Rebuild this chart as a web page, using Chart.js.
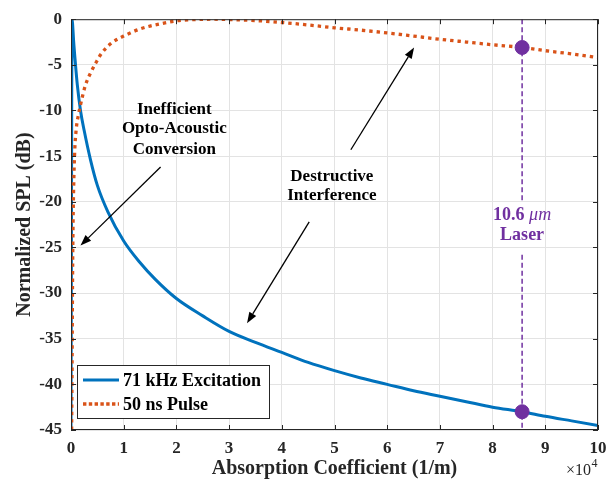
<!DOCTYPE html>
<html>
<head>
<meta charset="utf-8">
<script src="https://cdn.jsdelivr.net/npm/chart.js@4.4.1/dist/chart.umd.min.js"></script>
<style>
  html, body { margin: 0; padding: 0; background: #fff; }
  #wrap { width: 616px; height: 482px; }
</style>
</head>
<body>
<div id="wrap"><canvas id="splChart" width="616" height="482"></canvas></div>
<script>
// absorption coefficient (x 10^4 1/m) and normalized SPL (dB)
const excitationX = [0, 0.008, 0.014, 0.02, 0.03, 0.05, 0.08, 0.12, 0.18, 0.25, 0.37, 0.5, 0.7, 1.0, 1.3, 1.6, 2.0, 2.5, 3.0, 3.5, 4.0, 4.5, 5.0, 5.5, 6.0, 6.5, 7.0, 7.5, 8.0, 8.56, 9.0, 9.5, 10];
const excitationDb = [-45, -25, -8, 0, -0.5, -2.4, -4.6, -7.2, -10, -12.2, -15.4, -18.2, -21.1, -24.3, -26.6, -28.5, -30.6, -32.5, -34.2, -35.4, -36.5, -37.6, -38.5, -39.3, -40.0, -40.7, -41.3, -41.9, -42.5, -43.0, -43.5, -44.0, -44.5];

const pulseX = [0.012, 0.02, 0.03, 0.04, 0.05, 0.07, 0.1, 0.14, 0.18, 0.27, 0.37, 0.47, 0.56, 0.75, 1.0, 1.32, 1.7, 2.0, 2.4, 2.7, 3.0, 3.5, 4.0, 4.5, 5.0, 5.5, 6.0, 6.5, 7.0, 7.5, 8.0, 8.56, 9.0, 9.5, 10];
const pulseDb = [-45, -38, -28, -22, -18.5, -14.5, -12, -10.5, -9.4, -7.3, -5.9, -4.8, -3.9, -2.7, -1.85, -1.05, -0.5, -0.18, -0.03, 0, -0.04, -0.15, -0.36, -0.63, -0.94, -1.2, -1.5, -1.85, -2.2, -2.5, -2.8, -3.1, -3.45, -3.8, -4.2];

// 10.6 um laser line and its two operating points
const laserX = 8.56;
const laserLineDb = [0, -19.9, null, -25.8, -45];
const laserPointDb = [-3.1, -43.0];

const xTicks = [0, 1, 2, 3, 4, 5, 6, 7, 8, 9, 10];
const yTicks = [0, -5, -10, -15, -20, -25, -30, -35, -40, -45];

const seriesLabels = ['71 kHz Excitation', '50 ns Pulse'];

const BLUE = '#0072bd';
const ORANGE = '#d95319';
const PURPLE = '#7030a0';
const AXIS = '#262626';
const SERIF = '"Liberation Serif", "Times New Roman", serif';

function pts(xs, ys) {
  return xs.map((x, i) => ({ x: x, y: ys[i] }));
}

// annotations in data units
const notes = [
  { lines: ['Inefficient', 'Opto-Acoustic', 'Conversion'], x: 1.96, y: [-9.85, -12.0, -14.3] },
  { lines: ['Destructive', 'Interference'], x: 4.95, y: [-17.2, -19.3] }
];
const arrows = [
  { from: [1.7, -16.2], to: [0.18, -24.8] },
  { from: [4.52, -22.2], to: [3.34, -33.3] },
  { from: [5.31, -14.3], to: [6.51, -3.1] }
];

const overlay = {
  id: 'overlay',
  afterDraw(chart) {
    const ctx = chart.ctx;
    const a = chart.chartArea;
    const xs = chart.scales.x, ys = chart.scales.y;
    ctx.save();

    // box + inward ticks (matlab style)
    ctx.strokeStyle = AXIS;
    ctx.lineWidth = 1;
    ctx.strokeRect(a.left + 0.5, a.top + 0.5, a.right - a.left - 1, a.bottom - a.top - 1);
    ctx.beginPath();
    xTicks.forEach(v => {
      const px = Math.round(xs.getPixelForValue(v)) + 0.5;
      ctx.moveTo(px, a.bottom); ctx.lineTo(px, a.bottom - 5);
      ctx.moveTo(px, a.top); ctx.lineTo(px, a.top + 5);
    });
    yTicks.forEach(v => {
      const py = Math.round(ys.getPixelForValue(v)) + 0.5;
      ctx.moveTo(a.left, py); ctx.lineTo(a.left + 5, py);
      ctx.moveTo(a.right, py); ctx.lineTo(a.right - 5, py);
    });
    ctx.stroke();

    // arrows
    ctx.strokeStyle = '#000';
    ctx.fillStyle = '#000';
    ctx.lineWidth = 1.3;
    arrows.forEach(ar => {
      const x1 = xs.getPixelForValue(ar.from[0]), y1 = ys.getPixelForValue(ar.from[1]);
      const x2 = xs.getPixelForValue(ar.to[0]), y2 = ys.getPixelForValue(ar.to[1]);
      const ang = Math.atan2(y2 - y1, x2 - x1);
      const len = 11, half = 4;
      const bx = x2 - len * Math.cos(ang), by = y2 - len * Math.sin(ang);
      ctx.beginPath();
      ctx.moveTo(x1, y1); ctx.lineTo(bx, by);
      ctx.stroke();
      ctx.beginPath();
      ctx.moveTo(x2, y2);
      ctx.lineTo(bx + half * Math.sin(ang), by - half * Math.cos(ang));
      ctx.lineTo(bx - half * Math.sin(ang), by + half * Math.cos(ang));
      ctx.closePath();
      ctx.fill();
    });

    // text notes
    ctx.font = 'bold 17px ' + SERIF;
    ctx.textAlign = 'center';
    ctx.textBaseline = 'middle';
    notes.forEach(n => {
      n.lines.forEach((t, i) => {
        ctx.fillText(t, xs.getPixelForValue(n.x), ys.getPixelForValue(n.y[i]));
      });
    });

    // laser label
    const lx = xs.getPixelForValue(laserX);
    ctx.fillStyle = PURPLE;
    const numTxt = '10.6 ';
    ctx.font = 'italic 18px ' + SERIF;
    const wUnit = ctx.measureText('\u03bcm').width;
    ctx.font = 'bold 18px ' + SERIF;
    const wNum = ctx.measureText(numTxt).width;
    const startX = lx - (wNum + wUnit) / 2;
    const ly1 = ys.getPixelForValue(-21.5);
    ctx.textAlign = 'left';
    ctx.fillText(numTxt, startX, ly1);
    ctx.font = 'italic 18px ' + SERIF;
    ctx.fillText('\u03bcm', startX + wNum, ly1);
    ctx.font = 'bold 18px ' + SERIF;
    ctx.textAlign = 'center';
    ctx.fillText('Laser', lx, ys.getPixelForValue(-23.7));

    // legend box
    const lg = { left: 77.5, top: 365.5, w: 192, h: 53 };
    ctx.fillStyle = '#fff';
    ctx.fillRect(lg.left, lg.top, lg.w, lg.h);
    ctx.strokeStyle = AXIS;
    ctx.lineWidth = 1;
    ctx.strokeRect(lg.left, lg.top, lg.w, lg.h);
    const rows = [380, 404];
    const sampleDash = [[], [3.4, 2.4]];
    chart.data.datasets.slice(0, 2).forEach((ds, i) => {
      ctx.beginPath();
      ctx.strokeStyle = ds.borderColor;
      ctx.lineWidth = ds.borderWidth;
      ctx.setLineDash(sampleDash[i]);
      ctx.moveTo(83, rows[i]); ctx.lineTo(119, rows[i]);
      ctx.stroke();
      ctx.setLineDash([]);
      ctx.fillStyle = '#000';
      ctx.font = 'bold 18px ' + SERIF;
      ctx.textAlign = 'left';
      ctx.fillText(ds.label, 123, rows[i] + 1);
    });

    // x10^4 multiplier
    ctx.fillStyle = AXIS;
    ctx.font = '16px ' + SERIF;
    ctx.textAlign = 'right';
    ctx.fillText('\u00d710', 591, 471);
    ctx.font = '12px ' + SERIF;
    ctx.textAlign = 'left';
    ctx.fillText('4', 591.5, 464);

    ctx.restore();
  }
};

const ctx = document.getElementById('splChart').getContext('2d');
const splChart = new Chart(ctx, {
  type: 'scatter',
  data: {
    datasets: [
      {
        label: seriesLabels[0],
        data: pts(excitationX, excitationDb),
        showLine: true,
        borderColor: BLUE,
        borderWidth: 3,
        pointRadius: 0,
        cubicInterpolationMode: 'monotone',
        order: 3
      },
      {
        label: seriesLabels[1],
        data: pts(pulseX, pulseDb),
        showLine: true,
        borderColor: ORANGE,
        borderWidth: 3.3,
        borderDash: [3.4, 4],
        pointRadius: 0,
        cubicInterpolationMode: 'monotone',
        order: 2
      },
      {
        label: 'laser',
        data: laserLineDb.map(v => ({ x: laserX, y: v })),
        showLine: true,
        spanGaps: false,
        borderColor: PURPLE,
        borderWidth: 1.5,
        borderDash: [5, 3],
        pointRadius: 0,
        order: 1
      },
      {
        label: 'points',
        data: laserPointDb.map(v => ({ x: laserX, y: v })),
        pointRadius: 7,
        pointBackgroundColor: PURPLE,
        pointBorderColor: PURPLE,
        order: 0
      }
    ]
  },
  options: {
    responsive: false,
    animation: false,
    layout: { padding: { left: 0, right: 18, top: 14, bottom: 0 } },
    plugins: { legend: { display: false }, tooltip: { enabled: false } },
    scales: {
      x: {
        type: 'linear',
        min: 0,
        max: 10,
        afterBuildTicks: s => { s.ticks = xTicks.map(v => ({ value: v })); },
        afterFit: s => { s.height = 52; },
        grid: { color: '#e3e3e3', drawTicks: false },
        border: { display: false },
        ticks: {
          padding: 8,
          color: AXIS,
          font: { family: SERIF, size: 17, weight: 'bold' },
          maxRotation: 0
        },
        title: {
          display: true,
          text: 'Absorption Coefficient (1/m)',
          color: AXIS,
          font: { family: SERIF, size: 20, weight: 'bold' },
          padding: { top: 0, bottom: 1 }
        }
      },
      y: {
        type: 'linear',
        min: -45,
        max: 0,
        afterBuildTicks: s => { s.ticks = yTicks.map(v => ({ value: v })); },
        afterFit: s => { s.width = 71; },
        grid: { color: '#e3e3e3', drawTicks: false },
        border: { display: false },
        ticks: {
          padding: 9,
          color: AXIS,
          font: { family: SERIF, size: 17, weight: 'bold' }
        },
        title: {
          display: true,
          text: 'Normalized SPL (dB)',
          color: AXIS,
          font: { family: SERIF, size: 20, weight: 'bold' },
          padding: { top: 13, bottom: 0 }
        }
      }
    }
  },
  plugins: [overlay]
});
</script>
</body>
</html>
